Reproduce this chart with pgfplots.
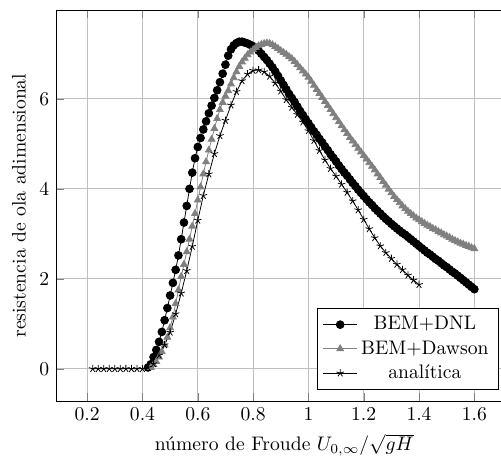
\documentclass[border=0pt]{standalone}
\usepackage{fontspec}
\usepackage{pgfplots}
\pgfplotsset{compat=1.18}
\usetikzlibrary{calc}

% BEM+DNL
\pgfplotstableread{
x y
0.42 0.03
0.43 0.10
0.44 0.26
0.45 0.42
0.46 0.60
0.47 0.82
0.48 1.08
0.49 1.35
0.50 1.63
0.51 1.91
0.52 2.20
0.53 2.52
0.54 2.88
0.55 3.25
0.56 3.62
0.57 4.00
0.58 4.36
0.59 4.68
0.60 4.93
0.61 5.13
0.62 5.32
0.63 5.50
0.64 5.68
0.65 5.85
0.66 6.02
0.67 6.19
0.68 6.37
0.69 6.56
0.70 6.76
0.71 6.96
0.72 7.10
0.73 7.19
0.74 7.24
0.75 7.27
0.76 7.27
0.77 7.25
0.78 7.23
0.79 7.20
0.80 7.17
0.81 7.13
0.82 7.07
0.83 7.00
0.84 6.93
0.85 6.86
0.86 6.78
0.87 6.70
0.88 6.61
0.89 6.51
0.90 6.41
0.91 6.31
0.92 6.21
0.93 6.11
0.94 6.02
0.95 5.93
0.96 5.83
0.97 5.73
0.98 5.64
0.99 5.55
1.00 5.46
1.01 5.37
1.02 5.28
1.03 5.20
1.04 5.11
1.05 5.03
1.06 4.94
1.07 4.86
1.08 4.77
1.09 4.69
1.10 4.61
1.11 4.52
1.12 4.44
1.13 4.36
1.14 4.29
1.15 4.21
1.16 4.13
1.17 4.06
1.18 3.98
1.19 3.91
1.20 3.84
1.21 3.77
1.22 3.70
1.23 3.64
1.24 3.57
1.25 3.51
1.26 3.45
1.27 3.39
1.28 3.33
1.29 3.28
1.30 3.22
1.31 3.17
1.32 3.12
1.33 3.07
1.34 3.02
1.35 2.98
1.36 2.93
1.37 2.88
1.38 2.83
1.39 2.78
1.40 2.73
1.41 2.68
1.42 2.63
1.43 2.58
1.44 2.54
1.45 2.49
1.46 2.44
1.47 2.40
1.48 2.35
1.49 2.30
1.50 2.26
1.51 2.21
1.52 2.16
1.53 2.12
1.54 2.07
1.55 2.02
1.56 1.97
1.57 1.92
1.58 1.87
1.59 1.82
1.60 1.77
}\dnl

% BEM+Dawson
\pgfplotstableread{
x y
0.43 0.03
0.44 0.09
0.45 0.16
0.46 0.26
0.47 0.38
0.48 0.53
0.49 0.70
0.50 0.91
0.51 1.15
0.52 1.45
0.53 1.75
0.54 2.05
0.55 2.32
0.56 2.60
0.57 2.88
0.58 3.17
0.59 3.45
0.60 3.75
0.61 4.04
0.62 4.33
0.63 4.60
0.64 4.86
0.65 5.10
0.66 5.34
0.67 5.56
0.68 5.76
0.69 5.92
0.70 6.06
0.71 6.18
0.72 6.33
0.73 6.47
0.74 6.60
0.75 6.72
0.76 6.82
0.77 6.90
0.78 6.98
0.79 7.04
0.80 7.09
0.81 7.14
0.82 7.18
0.83 7.21
0.84 7.23
0.85 7.24
0.86 7.23
0.87 7.20
0.88 7.16
0.89 7.12
0.90 7.07
0.91 7.03
0.92 6.99
0.93 6.94
0.94 6.89
0.95 6.83
0.96 6.76
0.97 6.69
0.98 6.62
0.99 6.55
1.00 6.48
1.01 6.39
1.02 6.30
1.03 6.21
1.04 6.12
1.05 6.03
1.06 5.94
1.07 5.85
1.08 5.76
1.09 5.67
1.10 5.58
1.11 5.49
1.12 5.40
1.13 5.31
1.14 5.23
1.15 5.14
1.16 5.06
1.17 4.98
1.18 4.90
1.19 4.82
1.20 4.74
1.21 4.66
1.22 4.58
1.23 4.50
1.24 4.42
1.25 4.33
1.26 4.25
1.27 4.16
1.28 4.08
1.29 3.99
1.30 3.91
1.31 3.83
1.32 3.76
1.33 3.69
1.34 3.62
1.35 3.56
1.36 3.50
1.37 3.45
1.38 3.40
1.39 3.35
1.40 3.31
1.41 3.27
1.42 3.23
1.43 3.19
1.44 3.16
1.45 3.12
1.46 3.09
1.47 3.05
1.48 3.02
1.49 2.98
1.50 2.95
1.51 2.92
1.52 2.88
1.53 2.85
1.54 2.82
1.55 2.79
1.56 2.77
1.57 2.74
1.58 2.72
1.59 2.69
1.60 2.67
}\dawson

% analitica
\pgfplotstableread{
x y
0.22 0
0.24 0
0.26 0
0.28 0
0.30 0
0.32 0
0.34 0
0.36 0
0.38 0
0.40 0
0.42 0.03
0.44 0.11
0.46 0.30
0.48 0.53
0.50 0.81
0.52 1.22
0.54 1.68
0.56 2.18
0.58 2.72
0.60 3.30
0.62 3.85
0.64 4.33
0.66 4.78
0.68 5.18
0.70 5.52
0.72 5.86
0.74 6.16
0.76 6.40
0.78 6.55
0.80 6.63
0.82 6.64
0.84 6.60
0.86 6.50
0.88 6.35
0.90 6.17
0.92 5.98
0.94 5.81
0.96 5.65
0.98 5.48
1.00 5.29
1.02 5.07
1.04 4.85
1.06 4.64
1.08 4.45
1.10 4.28
1.12 4.10
1.14 3.92
1.16 3.73
1.18 3.53
1.20 3.32
1.22 3.11
1.24 2.91
1.26 2.73
1.28 2.58
1.30 2.45
1.32 2.32
1.34 2.20
1.36 2.08
1.38 1.97
1.40 1.87
}\analitica

\begin{document}
\begin{tikzpicture}
\begin{axis}[
    name=ax,
    scale only axis,
    width=232.8pt,
    height=199.7pt,
    xmin=0.0875, xmax=1.7375,
    ymin=-0.725, ymax=7.975,
    xtick={0.2,0.4,0.6,0.8,1,1.2,1.4,1.6},
    ytick={0,2,4,6},
    grid=major,
    xlabel={número de Froude $U_{0,\infty}/\sqrt{gH}$},
    ylabel={resistencia de ola adimensional},
    legend pos=south east,
    legend cell align=center,
]
\addplot[black, mark=*] table {\dnl};
\addlegendentry{BEM+DNL}
\addplot[gray, mark=triangle*] table {\dawson};
\addlegendentry{BEM+Dawson}
\addplot[black, mark=star] table {\analitica};
\addlegendentry{analítica}
\end{axis}
\pgfresetboundingbox
\path[use as bounding box] ($(ax.south west)+(-28.6pt,-27.6pt)$) rectangle ($(ax.north west)+(227pt,5.1pt)$);
\end{tikzpicture}
\end{document}
